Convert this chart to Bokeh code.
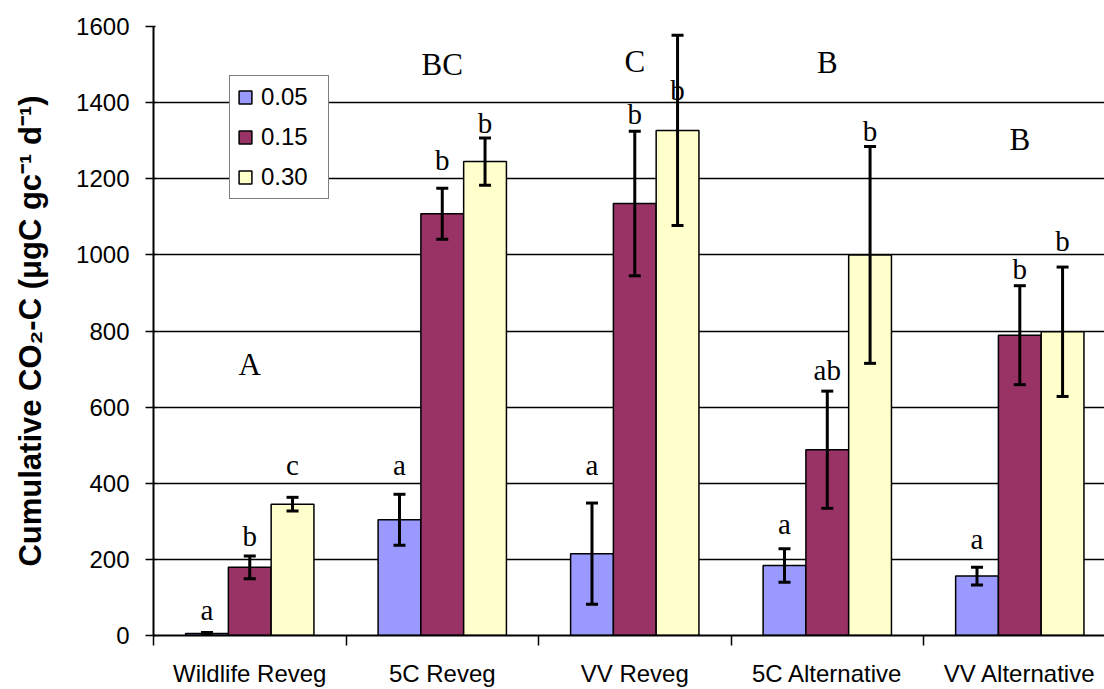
from bokeh.plotting import figure
from bokeh.models import (ColumnDataSource, Range1d, FixedTicker, Whisker, TeeHead,
                          Legend, LegendItem, Grid)
from bokeh.core.properties import value
from bokeh.embed import file_html
from bokeh.resources import INLINE

# ---------------- data ----------------
categories = ["Wildlife Reveg", "5C Reveg", "VV Reveg", "5C Alternative", "VV Alternative"]
series_names = ["0.05", "0.15", "0.30"]
colors = ["#9999FF", "#993366", "#FFFFCC"]

vals_005 = [5, 304, 215, 184, 156]
err_005 = [3, 67, 133, 44, 23]
vals_015 = [179, 1108, 1135, 488, 789]
err_015 = [30, 67, 190, 154, 130]
vals_030 = [345, 1245, 1327, 1000, 798]
err_030 = [18, 62, 250, 285, 170]

letters_005 = ["a", "a", "a", "a", "a"]
letter_y_005 = [40, 422, 422, 267, 228]
letters_015 = ["b", "b", "b", "ab", "b"]
letter_y_015 = [234, 1224, 1343, 670, 936]
letters_030 = ["c", "b", "b", "b", "b"]
letter_y_030 = [422, 1320, 1408, 1299, 1011]

group_letters = ["A", "BC", "C", "B", "B"]
group_letter_y = [685, 1475, 1483, 1478, 1277]

y_ticks = [0, 200, 400, 600, 800, 1000, 1200, 1400, 1600]

# ---------------- figure ----------------
n = len(categories)
centers = [i + 0.5 for i in range(n)]
boundaries = [float(i) for i in range(n + 1)]
bar_w = 1 / 4.5

p = figure(width=1104, height=689, x_range=Range1d(0, 4.94), y_range=Range1d(y_ticks[0], y_ticks[-1]),
           output_backend="svg", toolbar_location=None,
           min_border_left=153, min_border_right=0, min_border_top=26, min_border_bottom=53)
p.outline_line_color = None
p.background_fill_color = "white"
p.border_fill_color = "white"

p.xgrid.visible = False
p.ygrid.ticker = FixedTicker(ticks=y_ticks[1:-1])
p.ygrid.grid_line_color = "black"
p.ygrid.grid_line_width = 1.5
top_grid = Grid(dimension=1, ticker=FixedTicker(ticks=[y_ticks[-1]]),
                grid_line_color="#808080", grid_line_width=3)
p.add_layout(top_grid)

bars = []
vals = [vals_005, vals_015, vals_030]
errs = [err_005, err_015, err_030]
letters = [letters_005, letters_015, letters_030]
letter_ys = [letter_y_005, letter_y_015, letter_y_030]
for i in range(3):
    xs = [c + (i - 1) * bar_w for c in centers]
    src = ColumnDataSource(dict(
        x=xs, top=vals[i],
        upper=[v + e for v, e in zip(vals[i], errs[i])],
        lower=[v - e for v, e in zip(vals[i], errs[i])],
        lt=letters[i], ly=letter_ys[i]))
    r = p.vbar(x="x", top="top", width=bar_w, bottom=0, source=src,
               fill_color=colors[i], line_color="black", line_width=1.5)
    bars.append(r)
    w = Whisker(source=src, base="x", upper="upper", lower="lower",
                line_color="black", line_width=3, level="annotation",
                upper_head=TeeHead(size=12, line_width=3, line_color="black"),
                lower_head=TeeHead(size=12, line_width=3, line_color="black"))
    p.add_layout(w)
    p.text(x="x", y="ly", text="lt", source=src, text_font=value("Liberation Serif"),
           text_font_size="29px", text_align="center", text_baseline="alphabetic",
           text_color="black", y_offset=-10)

gsrc = ColumnDataSource(dict(x=centers, y=group_letter_y, t=group_letters))
p.text(x="x", y="y", text="t", source=gsrc, text_font=value("Liberation Serif"),
       text_font_size="31px", text_align="center", text_baseline="alphabetic",
       text_color="black", y_offset=-10)

# x axis
xa = p.xaxis[0]
xa.ticker = FixedTicker(ticks=centers, minor_ticks=boundaries)
xa.major_label_overrides = {c: name for c, name in zip(centers, categories)}
xa.major_tick_out = 0
xa.major_tick_in = 0
xa.minor_tick_out = 10
xa.minor_tick_in = 0
xa.minor_tick_line_color = "black"
xa.minor_tick_line_width = 1.5
xa.axis_line_color = "black"
xa.axis_line_width = 2
xa.major_label_text_font = "Liberation Sans"
xa.major_label_text_font_size = "24px"
xa.major_label_text_color = "black"
xa.major_label_standoff = 14

# y axis
ya = p.yaxis[0]
ya.ticker = FixedTicker(ticks=y_ticks)
ya.major_tick_out = 8
ya.major_tick_in = 2
ya.major_tick_line_color = "black"
ya.major_tick_line_width = 1.5
ya.minor_tick_line_color = None
ya.axis_line_color = "black"
ya.axis_line_width = 2
ya.major_label_text_font = "Liberation Sans"
ya.major_label_text_font_size = "24px"
ya.major_label_text_color = "black"
ya.major_label_standoff = 16
ya.axis_label = "Cumulative CO\u2082-C (\u03bcgC gc\u207b\u00b9 d\u207b\u00b9)"
ya.axis_label_text_font = "Liberation Sans"
ya.axis_label_text_font_style = "bold"
ya.axis_label_text_font_size = "31px"
ya.axis_label_text_color = "black"
ya.axis_label_standoff = 25

legend = Legend(items=[LegendItem(label=series_names[i], renderers=[bars[i]]) for i in range(3)],
                location=(76, 436), orientation="vertical")
legend.border_line_color = "black"
legend.border_line_width = 1.5
legend.background_fill_color = "white"
legend.background_fill_alpha = 1
legend.padding = 7
legend.spacing = 12
legend.margin = 0
legend.glyph_width = 16
legend.glyph_height = 16
legend.label_standoff = 8
legend.label_width = 60
legend.label_text_font = "Liberation Sans"
legend.label_text_font_size = "24px"
legend.label_text_color = "black"
p.add_layout(legend)

open("out.html", "w").write(file_html(p, INLINE))
